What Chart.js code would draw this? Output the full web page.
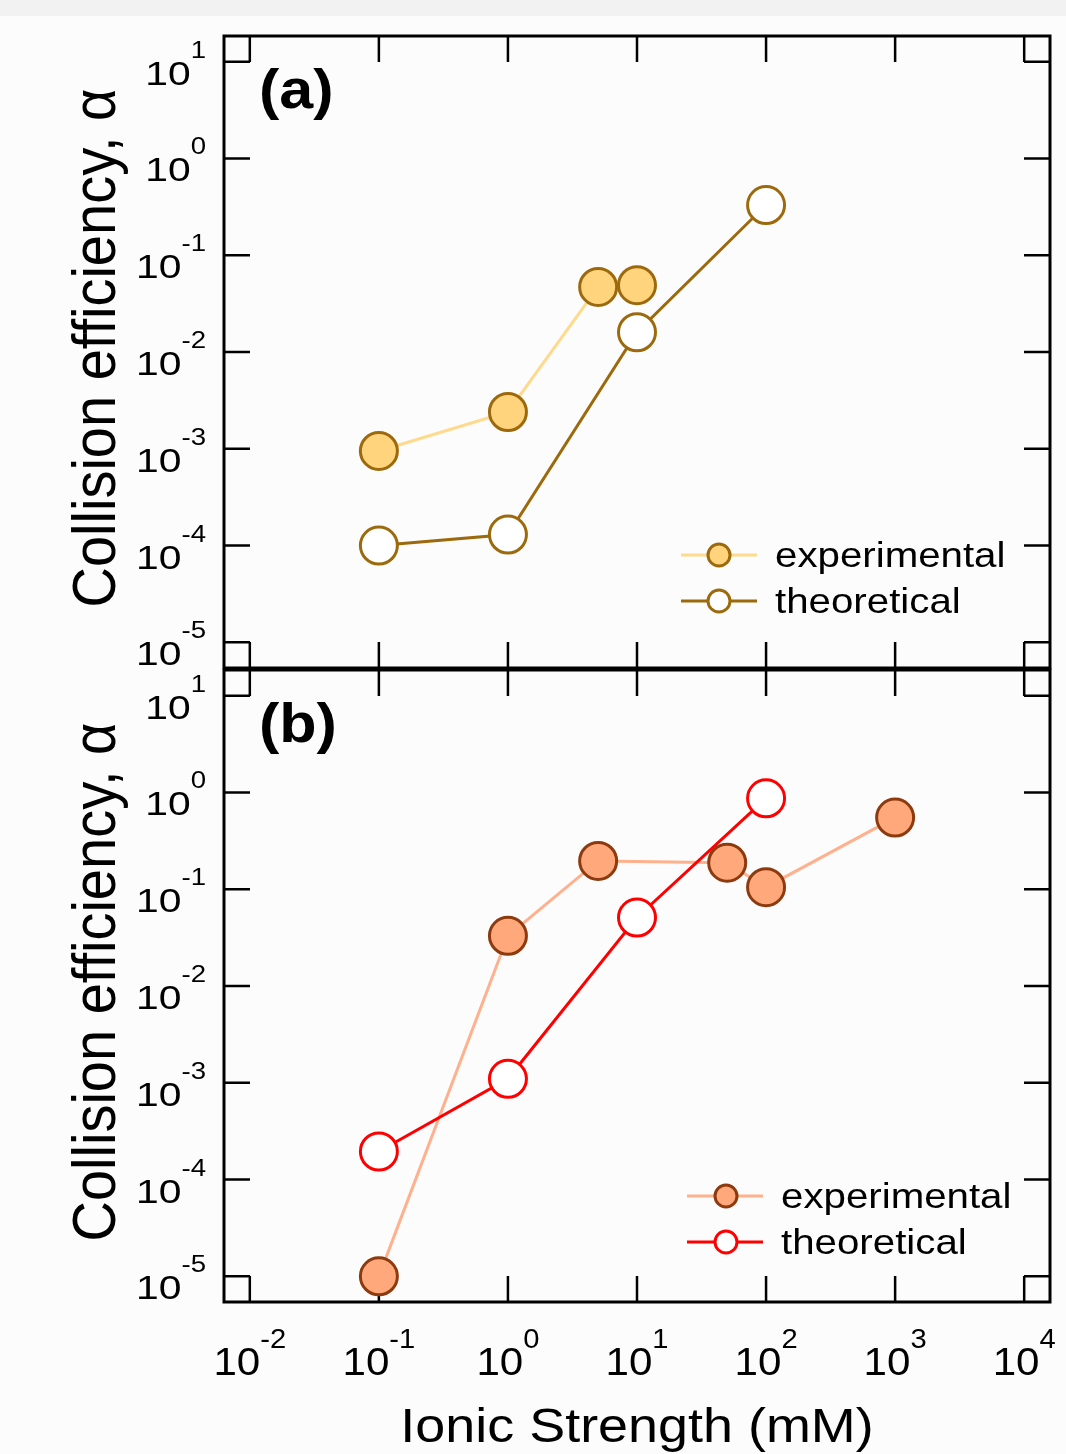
<!DOCTYPE html>
<html>
<head>
<meta charset="utf-8">
<script src="https://cdn.jsdelivr.net/npm/chart.js@4.4.0/dist/chart.umd.min.js"></script>
<style>
body { margin: 0; background: #fcfcfc; width: 1066px; height: 1454px; position: relative; overflow: hidden; }
#band { position: absolute; left: 0; top: 0; width: 1066px; height: 16px; background: #f2f2f2; }
canvas { position: absolute; left: 0; }
#chartA { top: 0; }
#chartB { top: 640px; }
</style>
</head>
<body>
<div id="band"></div>
<canvas id="chartA" width="1066" height="700"></canvas>
<canvas id="chartB" width="1066" height="814"></canvas>
<script>
const ionicExpA = [0.1, 1, 5, 10];
const alphaExpA = [0.00095, 0.0024, 0.047, 0.049];
const ionicTheoA = [0.1, 1, 10, 100];
const alphaTheoA = [0.0001, 0.00013, 0.016, 0.33];

const ionicExpB = [0.1, 1, 5, 50, 100, 1000];
const alphaExpB = [0.00001, 0.033, 0.196, 0.188, 0.105, 0.55];
const ionicTheoB = [0.1, 1, 10, 100];
const alphaTheoB = [0.000195, 0.0011, 0.051, 0.87];

const seriesNames = ['experimental', 'theoretical'];
const panelTags = ['(a)', '(b)'];
const xTickExps = [-2, -1, 0, 1, 2, 3, 4];
const yTickExps = [-5, -4, -3, -2, -1, 0, 1];
const xTitle = 'Ionic Strength (mM)';
const yTitle = 'Collision efficiency, α';

const FONT = '"Liberation Sans", Arial, sans-serif';

function toPoints(xs, ys) {
  return xs.map((x, i) => ({x: x, y: ys[i]}));
}

function fontOf(size, bold) {
  return (bold ? 'bold ' : '') + size + 'px ' + FONT;
}

// text stretched horizontally a bit, like the original figure
function scaledText(ctx, str, x, y, size, sx, bold) {
  ctx.save();
  ctx.font = fontOf(size, bold);
  ctx.fillStyle = '#000';
  ctx.textAlign = 'left';
  ctx.textBaseline = 'alphabetic';
  ctx.translate(x, y);
  ctx.scale(sx, 1);
  ctx.fillText(str, 0, 0);
  ctx.restore();
}

function textWidth(ctx, str, size, sx, bold) {
  ctx.save();
  ctx.font = fontOf(size, bold);
  const w = ctx.measureText(str).width * sx;
  ctx.restore();
  return w;
}

function powerLabel(ctx, exp, x, y, s, align) {
  const base = '10', sup = String(exp);
  const bw = textWidth(ctx, base, s.base, s.sx);
  const ew = textWidth(ctx, sup, s.sup, s.sx);
  const left = align === 'right' ? x - bw - ew : x - (bw + ew) / 2;
  scaledText(ctx, base, left, y + s.baseDy, s.base, s.sx);
  scaledText(ctx, sup, left + bw, y + s.supDy, s.sup, s.sx);
}

const axisBox = {
  id: 'axisBox',
  beforeDatasetsDraw(chart, args, o) {
    const ctx = chart.ctx, a = chart.chartArea;
    const xs = chart.scales.x, ys = chart.scales.y;
    ctx.save();
    ctx.strokeStyle = '#000';
    ctx.lineWidth = 2.5;
    ctx.beginPath();
    xTickExps.forEach(e => {
      const p = xs.getPixelForValue(Math.pow(10, e));
      ctx.moveTo(p, a.top); ctx.lineTo(p, a.top + o.tick);
      ctx.moveTo(p, a.bottom); ctx.lineTo(p, a.bottom - o.tick);
    });
    yTickExps.forEach(e => {
      const p = ys.getPixelForValue(Math.pow(10, e));
      ctx.moveTo(a.left, p); ctx.lineTo(a.left + o.tick, p);
      ctx.moveTo(a.right, p); ctx.lineTo(a.right - o.tick, p);
    });
    ctx.stroke();
    ctx.lineWidth = 3;
    ctx.strokeRect(a.left, a.top, a.right - a.left, a.bottom - a.top);
    ctx.restore();
  },
  afterDraw(chart, args, o) {
    const ctx = chart.ctx, a = chart.chartArea;
    const xs = chart.scales.x, ys = chart.scales.y;

    yTickExps.forEach(e => {
      const p = ys.getPixelForValue(Math.pow(10, e));
      powerLabel(ctx, e, 206, p, {base: 34, sup: 23, sx: 1.2, baseDy: 23, supDy: -4}, 'right');
    });
    if (o.showX) {
      xTickExps.forEach(e => {
        const p = xs.getPixelForValue(Math.pow(10, e));
        powerLabel(ctx, e, p, a.bottom, {base: 39, sup: 27, sx: 1.08, baseDy: 73, supDy: 46}, 'center');
      });
      const tw = textWidth(ctx, xTitle, 49, 1.1);
      scaledText(ctx, xTitle, (a.left + a.right) / 2 - tw / 2, a.bottom + 140, 49, 1.1);
    }

    // y title, rotated
    ctx.save();
    ctx.font = fontOf(56);
    ctx.fillStyle = '#000';
    ctx.textAlign = 'center';
    ctx.textBaseline = 'alphabetic';
    ctx.translate(115, (a.top + a.bottom) / 2 - 4);
    ctx.rotate(-Math.PI / 2);
    ctx.scale(1, 1.08);
    ctx.fillText(yTitle, 0, 0);
    ctx.restore();

    scaledText(ctx, o.tag, 259, a.top + 72, 56, 1.09, true);

    // legend: line with marker, then name
    const lg = o.legend;
    chart.data.datasets.forEach((ds, i) => {
      const y = lg.y + i * lg.gap;
      ctx.save();
      ctx.strokeStyle = ds.borderColor;
      ctx.lineWidth = 3;
      ctx.beginPath();
      ctx.moveTo(lg.x1, y); ctx.lineTo(lg.x2, y);
      ctx.stroke();
      ctx.beginPath();
      ctx.arc(lg.mx, y, 11, 0, Math.PI * 2);
      ctx.fillStyle = ds.pointBackgroundColor;
      ctx.fill();
      ctx.strokeStyle = ds.pointBorderColor;
      ctx.stroke();
      ctx.restore();
      scaledText(ctx, ds.label, lg.tx, y + 12, 35, 1.15);
    });
  }
};

function series(name, xs, ys, c, order) {
  return {
    label: name,
    data: toPoints(xs, ys),
    showLine: true,
    borderColor: c.line,
    borderWidth: 3,
    pointRadius: 18.5,
    pointHoverRadius: 18.5,
    pointBorderWidth: 3,
    pointBackgroundColor: c.fill,
    pointBorderColor: c.edge,
    clip: false,
    order: order
  };
}

function makePanel(id, exp, theo, o) {
  new Chart(document.getElementById(id), {
    type: 'scatter',
    data: {
      datasets: [
        series(seriesNames[0], exp[0], exp[1], o.expColors, 1),
        series(seriesNames[1], theo[0], theo[1], o.theoColors, 0)
      ]
    },
    options: {
      responsive: false,
      animation: false,
      devicePixelRatio: 1,
      layout: {autoPadding: false, padding: {left: 0, right: 16, top: o.padTop, bottom: 0}},
      plugins: {
        legend: {display: false},
        tooltip: {enabled: false},
        axisBox: o
      },
      scales: {
        x: {
          type: 'logarithmic',
          min: Math.pow(10, -2.2),
          max: Math.pow(10, 4.2),
          ticks: {display: false},
          grid: {display: false},
          border: {display: false},
          afterFit: function(s) { s.height = o.xHeight; }
        },
        y: {
          type: 'logarithmic',
          min: Math.pow(10, -5.265),
          max: Math.pow(10, 1.265),
          ticks: {display: false},
          grid: {display: false},
          border: {display: false},
          afterFit: function(s) { s.width = 224; }
        }
      }
    },
    plugins: [axisBox]
  });
}

window.addEventListener('DOMContentLoaded', function () {
  makePanel('chartA', [ionicExpA, alphaExpA], [ionicTheoA, alphaTheoA], {
    padTop: 36, xHeight: 32, showX: false, tick: 26, tag: panelTags[0],
    expColors: {line: '#ffd98c', fill: '#ffd47c', edge: '#9c6a0c'},
    theoColors: {line: '#9c6a0c', fill: '#ffffff', edge: '#9c6a0c'},
    legend: {x1: 681, x2: 757, mx: 719, y: 555, gap: 46, tx: 775}
  });
  makePanel('chartB', [ionicExpB, alphaExpB], [ionicTheoB, alphaTheoB], {
    padTop: 30, xHeight: 152, showX: true, tick: 26, tag: panelTags[1],
    expColors: {line: '#ffb08c', fill: '#ffa87c', edge: '#8c3a0e'},
    theoColors: {line: '#ff0000', fill: '#ffffff', edge: '#ff0000'},
    legend: {x1: 687, x2: 763, mx: 726, y: 556, gap: 46, tx: 781}
  });
});
</script>
</body>
</html>
